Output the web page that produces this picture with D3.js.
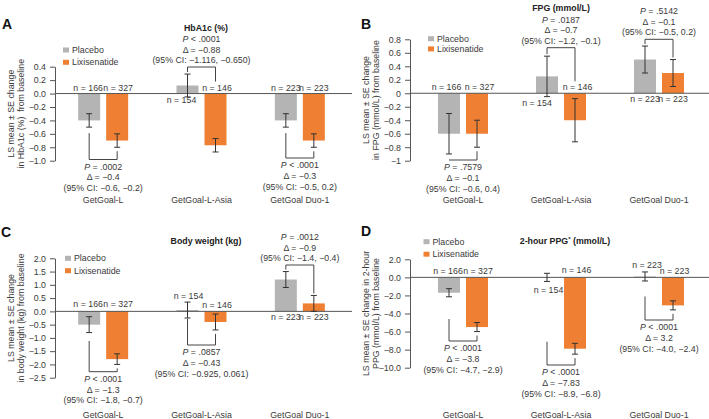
<!DOCTYPE html>
<html><head><meta charset="utf-8">
<script src="https://cdn.jsdelivr.net/npm/d3@7"></script>
<style>
html,body{margin:0;padding:0;background:#fff;}
svg{display:block;font-family:"Liberation Sans",Arial,Helvetica,sans-serif;}
text{white-space:pre;}
</style></head><body>
<svg id="chart" width="709" height="419"></svg>
<script>
// ---------------- DATA ----------------
const categories = ["GetGoal-L", "GetGoal-L-Asia", "GetGoal Duo-1"];
const seriesNames = ["Placebo", "Lixisenatide"];
const nPlacebo = [166, 154, 223];
const nLixi = [327, 146, 223];

const hba1cPlacebo = [-0.4, 0.12, -0.4];
const hba1cPlaceboSE = [0.1, 0.17, 0.1];
const hba1cLixi = [-0.7, -0.77, -0.7];
const hba1cLixiSE = [0.1, 0.1, 0.1];
const hba1cTicks = [0.4, 0.2, 0, -0.2, -0.4, -0.6, -0.8, -1.0];
const hba1cTickLabels = ["0.4", "0.2", "0.0", "−0.2", "−0.4", "−0.6", "−0.8", "−1.0"];
const hba1cP = ["= .0002", "< .0001", "< .0001"];
const hba1cDelta = ["−0.4", "−0.88", "−0.3"];
const hba1cCI = ["(95% CI: −0.6, −0.2)", "(95% CI: −1.116, −0.650)", "(95% CI: −0.5, 0.2)"];

const fpgPlacebo = [-0.6, 0.25, 0.5];
const fpgPlaceboSE = [0.3, 0.3, 0.2];
const fpgLixi = [-0.6, -0.4, 0.3];
const fpgLixiSE = [0.2, 0.32, 0.2];
const fpgTicks = [0.8, 0.6, 0.4, 0.2, 0, -0.2, -0.4, -0.6, -0.8, -1];
const fpgTickLabels = ["0.8", "0.6", "0.4", "0.2", "0", "−0.2", "−0.4", "−0.6", "−0.8", "−1"];
const fpgP = ["= .7579", "= .0187", "= .5142"];
const fpgDelta = ["−0.1", "−0.7", "−0.1"];
const fpgCI = ["(95% CI: −0.6, 0.4)", "(95% CI: −1.2, −0.1)", "(95% CI: −0.5, 0.2)"];

const bwPlacebo = [-0.5, 0.05, 1.2];
const bwPlaceboSE = [0.3, 0.3, 0.3];
const bwLixi = [-1.8, -0.4, 0.3];
const bwLixiSE = [0.2, 0.3, 0.3];
const bwTicks = [2.0, 1.5, 1.0, 0.5, 0, -0.5, -1.0, -1.5, -2.0, -2.5];
const bwTickLabels = ["2.0", "1.5", "1.0", "0.5", "0.0", "−0.5", "−1.0", "−1.5", "−2.0", "−2.5"];
const bwP = ["< .0001", "= .0857", "= .0012"];
const bwDelta = ["−1.3", "−0.43", "−0.9"];
const bwCI = ["(95% CI: −1.8, −0.7)", "(95% CI: −0.925, 0.061)", "(95% CI: −1.4, −0.4)"];

const ppgPlacebo = [-1.7, 0.0, 0.1];
const ppgPlaceboSE = [0.45, 0.45, 0.5];
const ppgLixi = [-5.5, -7.9, -3.1];
const ppgLixiSE = [0.5, 0.6, 0.5];
const ppgTicks = [2, 0, -2, -4, -6, -8, -10];
const ppgTickLabels = ["2.0", "0.0", "−2.0", "−4.0", "−6.0", "−8.0", "−10.0"];
const ppgP = ["< .0001", "< .0001", "< .0001"];
const ppgDelta = ["−3.8", "−7.83", "3.2"];
const ppgCI = ["(95% CI: −4.7, −2.9)", "(95% CI: −8.9, −6.8)", "(95% CI: −4.0, −2.4)"];

// ---------------- STYLE / LAYOUT ----------------
const colors = ["#b4b4b4", "#ef8033"];
const ink = "#3a3a3a";
const lineCol = "#555";
const FS = 8.8;

const panels = [
  { letter: "A", letterX: 2, letterY: 28.5, axisX: 55, band: [54, 349], lineEnd: 352,
    yPix: [66.7, 160.7], domain: [0.4, -1.0], ticks: hba1cTicks, tickLabels: hba1cTickLabels,
    pl: hba1cPlacebo, plSE: hba1cPlaceboSE, lx: hba1cLixi, lxSE: hba1cLixiSE,
    P: hba1cP, D: hba1cDelta, CI: hba1cCI,
    title: "HbA1c (%)", titleX: 206, titleY: 28,
    yTitle: ["LS mean ± SE change", "in HbA1c (%)  from baseline"],
    legX: 63, legY: 50, legDy: 12.3, catY: 199.5,
    brackets: [{ dir: "below", level: 159.5 }, { dir: "above", level: 67 }, { dir: "below", level: 158 }],
    nOff: [[[-1, -5.5], [1, -5.5]], [[-6, 6.5], [1.5, -5.5]], [[0, -5.5], [0, -5.5]]] },
  { letter: "B", letterX: 361, letterY: 28.5, axisX: 410, band: [414, 708], lineEnd: 709,
    yPix: [39.3, 160.7], domain: [0.8, -1], ticks: fpgTicks, tickLabels: fpgTickLabels,
    pl: fpgPlacebo, plSE: fpgPlaceboSE, lx: fpgLixi, lxSE: fpgLixiSE,
    P: fpgP, D: fpgDelta, CI: fpgCI,
    title: "FPG (mmol/L)", titleX: 561, titleY: 8,
    yTitle: ["LS mean ± SE change", "in FPG (mmol/L) from baseline"],
    legX: 428, legY: 38.7, legDy: 10.2, catY: 199.5,
    brackets: [{ dir: "below", level: 160 }, { dir: "above", level: 47.7 }, { dir: "above", level: 39.3 }],
    nOff: [[[-2.5, -6], [2.5, -6]], [[-10, 9.5], [2.5, -6]], [[0, 5.7], [0, 5.7]]] },
  { letter: "C", letterX: 1, letterY: 236.7, axisX: 55, band: [54, 349], lineEnd: 352,
    yPix: [258.3, 377.7], domain: [2.0, -2.5], ticks: bwTicks, tickLabels: bwTickLabels,
    pl: bwPlacebo, plSE: bwPlaceboSE, lx: bwLixi, lxSE: bwLixiSE,
    P: bwP, D: bwDelta, CI: bwCI,
    title: "Body weight (kg)", titleX: 206, titleY: 241,
    yTitle: ["LS mean ± SE change", "in body weight (kg) from baseline"],
    legX: 65, legY: 258.3, legDy: 12.4, catY: 414.5,
    brackets: [{ dir: "below", level: 371.7, lStart: 341 }, { dir: "below", level: 345, lStart: 319 }, { dir: "above", level: 265 }],
    nOff: [[[-1, -7], [1, -7]], [[1, -15.7], [1.5, -6.4]], [[0, 5.3], [0, 5.3]]] },
  { letter: "D", letterX: 361, letterY: 236, axisX: 410, band: [414, 708], lineEnd: 709,
    yPix: [259.3, 367.7], domain: [2, -10], ticks: ppgTicks, tickLabels: ppgTickLabels,
    pl: ppgPlacebo, plSE: ppgPlaceboSE, lx: ppgLixi, lxSE: ppgLixiSE,
    P: ppgP, D: ppgDelta, CI: ppgCI,
    title: "2-hour PPG", titleSup: "*", titleTail: " (mmol/L)", titleX: 565, titleY: 240.5,
    yTitle: ["LS mean ± SE change in 2-hour", "PPG (mmol/L) from baseline"],
    legX: 423.5, legY: 241.7, legDy: 12.5, catY: 414.5,
    brackets: [{ dir: "below", level: 341, lStart: 319 }, { dir: "below", level: 365, lStart: 341.7 }, { dir: "below", level: 320, lStart: 296.5 }],
    nOff: [[[-1, -6.7], [1, -6.7]], [[1.5, 12.6], [1.5, -7]], [[2, -12.4], [1.5, -6.4]]] }
];

const svg = d3.select("#chart");

panels.forEach(p => {
  const g = svg.append("g");
  const y = d3.scaleLinear().domain(p.domain).range(p.yPix);
  const x = d3.scaleBand().domain(categories).range(p.band).padding(0);
  const cx = c => x(c) + x.bandwidth() / 2;
  const off = 14, bw = 22;
  const y0 = y(0);

  // panel letter
  g.append("text").attr("x", p.letterX).attr("y", p.letterY)
    .attr("font-size", 14).attr("font-weight", "bold").attr("fill", "#111").text(p.letter);

  // title
  const t = g.append("text").attr("x", p.titleX).attr("y", p.titleY)
    .attr("text-anchor", "middle").attr("dominant-baseline", "central")
    .attr("font-size", FS).attr("font-weight", "bold").attr("fill", "#222").text(p.title);
  if (p.titleSup) {
    t.append("tspan").attr("font-size", FS * 0.7).attr("dy", -3).text(p.titleSup);
    t.append("tspan").attr("dy", 3).text(p.titleTail);
  }

  // axis
  const axis = d3.axisLeft(y).tickValues(p.ticks)
    .tickFormat((d, i) => p.tickLabels[i]).tickSize(5).tickSizeOuter(0).tickPadding(4);
  const ag = g.append("g").attr("transform", `translate(${p.axisX},0)`).call(axis);
  ag.selectAll("path, line").attr("stroke", lineCol);
  ag.selectAll("text").attr("font-size", FS).attr("fill", ink)
    .attr("font-family", '"Liberation Sans",Arial,sans-serif');

  // y title
  const midY = (p.yPix[0] + p.yPix[1]) / 2;
  p.yTitle.forEach((s, i) => {
    const tx = p.axisX - 44 + i * 9.5;
    g.append("text").attr("transform", `translate(${tx},${midY}) rotate(-90)`)
      .attr("text-anchor", "middle").attr("dominant-baseline", "central")
      .attr("font-size", FS).attr("fill", ink).text(s);
  });

  // legend
  seriesNames.forEach((s, i) => {
    const ly = p.legY + i * p.legDy;
    g.append("rect").attr("x", p.legX).attr("y", ly - 2.5).attr("width", 6).attr("height", 5).attr("fill", colors[i]);
    g.append("text").attr("x", p.legX + 9).attr("y", ly).attr("dominant-baseline", "central")
      .attr("font-size", FS).attr("fill", ink).text(s);
  });

  // bars
  const rows = categories.map((c, i) => ({
    c, i, vals: [p.pl[i], p.lx[i]], ses: [p.plSE[i], p.lxSE[i]], ns: [nPlacebo[i], nLixi[i]]
  }));
  rows.forEach(r => {
    const centre = cx(r.c);
    [0, 1].forEach(k => {
      const bx = centre + (k === 0 ? -off : off);
      const v = r.vals[k];
      g.append("rect").attr("x", bx - bw / 2).attr("y", Math.min(y(v), y0))
        .attr("width", bw).attr("height", Math.abs(y(v) - y0)).attr("fill", colors[k]);
    });
  });

  // zero line
  g.append("line").attr("x1", p.axisX).attr("x2", p.lineEnd).attr("y1", y0).attr("y2", y0)
    .attr("stroke", lineCol).attr("stroke-width", 1);

  // error bars + n labels
  rows.forEach(r => {
    const centre = cx(r.c);
    [0, 1].forEach(k => {
      const bx = centre + (k === 0 ? -off : off);
      const v = r.vals[k], se = r.ses[k];
      const yt = y(v + se), yb = y(v - se);
      g.append("path").attr("d", `M${bx},${yt}V${yb}M${bx - 3},${yt}H${bx + 3}M${bx - 3},${yb}H${bx + 3}`)
        .attr("stroke", "#333").attr("stroke-width", 1).attr("fill", "none");
      const o = p.nOff[r.i][k];
      g.append("text").attr("x", bx + o[0]).attr("y", y0 + o[1])
        .attr("text-anchor", "middle").attr("dominant-baseline", "central")
        .attr("font-size", FS).attr("fill", ink).text(`n = ${r.ns[k]}`);
    });
  });

  // brackets and stats
  rows.forEach(r => {
    const b = p.brackets[r.i];
    const centre = cx(r.c);
    const lp = centre - off, rp = centre + off;
    let d;
    if (b.dir === "below") {
      const ls = b.lStart != null ? b.lStart : y(r.vals[0] - r.ses[0]) + 6;
      const rs = y(r.vals[1] - r.ses[1]) + 4;
      d = `M${lp},${ls}V${b.level}H${rp}V${rs}`;
    } else {
      const le = Math.min(y(r.vals[0] + r.ses[0]), y0 - 10) - 2;
      const re = Math.min(y(r.vals[1] + r.ses[1]), y0 - 10) - 2;
      d = `M${lp},${le}V${b.level}H${rp}V${re}`;
    }
    g.append("path").attr("d", d).attr("stroke", "#444").attr("fill", "none").attr("stroke-width", 1);
    const lines = [null, `Δ = ${p.D[r.i]}`, p.CI[r.i]];
    const tcx = (lp + rp) / 2;
    lines.forEach((s, j) => {
      const ty = b.dir === "below" ? b.level + 7 + j * 10.8 : b.level - 7 - (2 - j) * 10.5;
      const te = g.append("text").attr("x", tcx).attr("y", ty)
        .attr("text-anchor", "middle").attr("dominant-baseline", "central")
        .attr("font-size", FS).attr("fill", ink);
      if (j === 0) {
        te.append("tspan").attr("font-style", "italic").text("P");
        te.append("tspan").text(" " + p.P[r.i]);
      } else te.text(s);
    });
  });

  // category labels
  categories.forEach(c => {
    g.append("text").attr("x", cx(c)).attr("y", p.catY)
      .attr("text-anchor", "middle").attr("dominant-baseline", "central")
      .attr("font-size", FS).attr("fill", ink).text(c);
  });
});
</script>
</body></html>
